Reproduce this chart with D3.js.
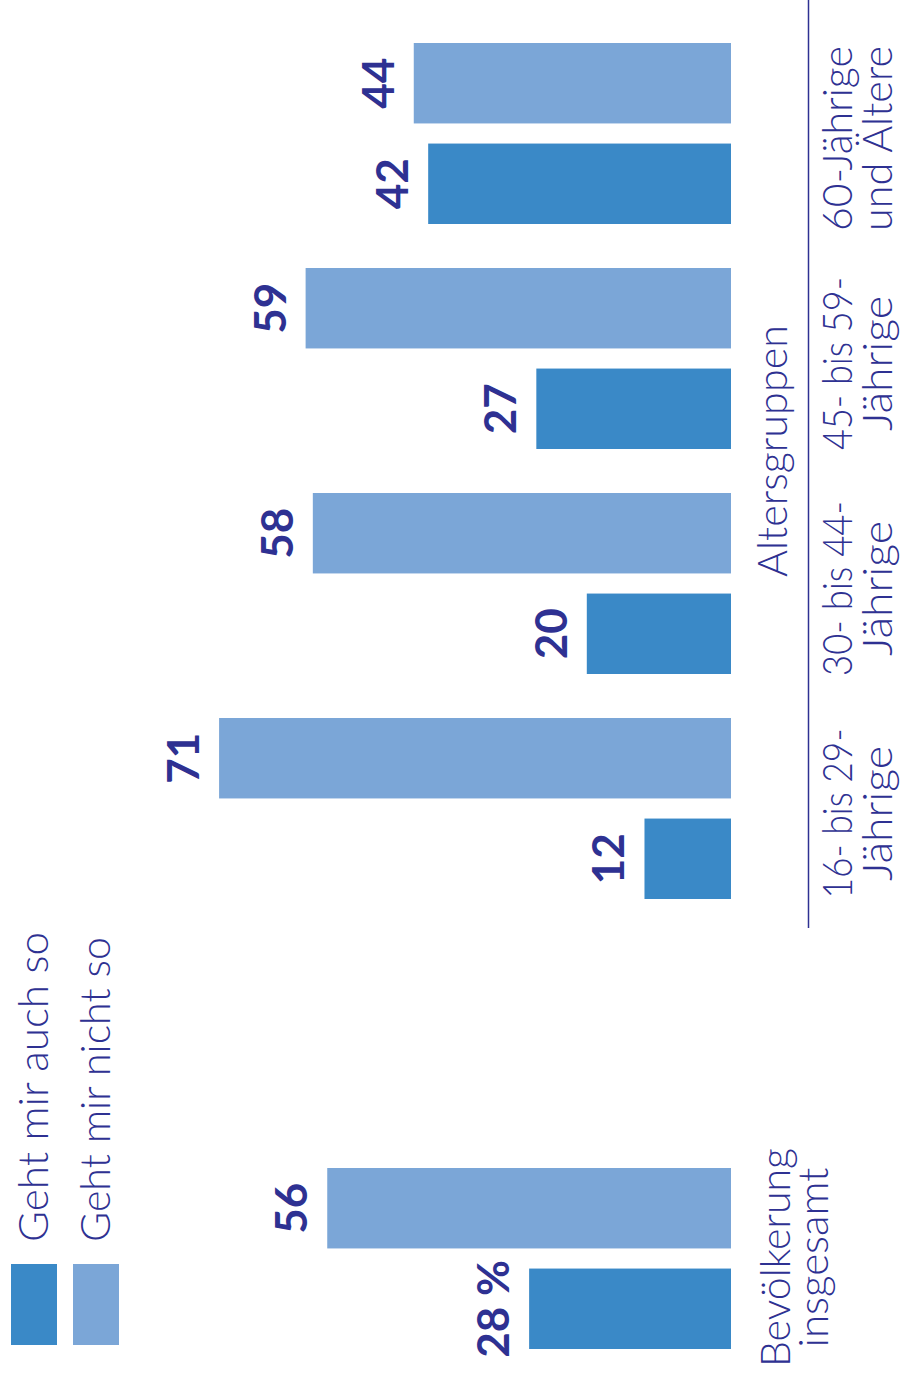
<!DOCTYPE html>
<html lang="de">
<head>
<meta charset="utf-8">
<script src="https://cdn.jsdelivr.net/npm/d3@7"></script>
<style>
  html, body { margin: 0; padding: 0; background: #ffffff; }
  svg { display: block; }
  text { font-family: Lato, "Open Sans", sans-serif; fill: #2e3192; }
  .cat { font-weight: 300; font-size: 41px; }
  .val { font-weight: 700; font-size: 44px; }
  .leg { font-weight: 300; font-size: 41px; }
</style>
</head>
<body>
<script>
// Umfrage: "Geht mir auch so" / "Geht mir nicht so" nach Altersgruppen (in %)
const groups = ["60+", "45-59", "30-44", "16-29", "gap", "total"];
const groupLabels = {
  "total": ["Bevölkerung", "insgesamt"],
  "16-29": ["16- bis 29-", "Jährige"],
  "30-44": ["30- bis 44-", "Jährige"],
  "45-59": ["45- bis 59-", "Jährige"],
  "60+":   ["60-Jährige", "und Ältere"]
};
const seriesNames = ["Geht mir auch so", "Geht mir nicht so"];
const seriesKeys = ["auch", "nicht"];
const auchValues  = { "total": 28, "16-29": 12, "30-44": 20, "45-59": 27, "60+": 42 };
const nichtValues = { "total": 56, "16-29": 71, "30-44": 58, "45-59": 59, "60+": 44 };
const axisTitle = "Altersgruppen";

const W = 903, H = 1377;
const colors = { auch: "#3a89c7", nicht: "#7ba6d7" };
const ink = "#2e3192";

// Laufweiten der Beschriftungen (px), damit die schmale Grotesk-Anmutung erhalten bleibt
const lineWidths = {
  "Bevölkerung": 219, "insgesamt": 180,
  "16- bis 29-": 170, "30- bis 44-": 175, "45- bis 59-": 173, "Jährige": 135,
  "60-Jährige": 185, "und Ältere": 185,
  "Altersgruppen": 252,
  "Geht mir auch so": 310, "Geht mir nicht so": 305
};

const svg = d3.select("body").append("svg")
  .attr("width", W).attr("height", H);

// Gruppenpositionen (vertikal), Reihen innerhalb der Gruppe
const yGroup = d3.scalePoint().domain(groups).range([133.5, 1258.5]);
const ySeries = d3.scaleBand().domain(["nicht", "auch"]).range([-90.5, 90.5]).paddingInner(0.2);
// Werte wachsen von der Basislinie nach links
const x = d3.scaleLinear().domain([0, 100]).range([731, 10]);

const rows = [];
groups.filter(g => g !== "gap").forEach(g => {
  rows.push({ group: g, key: "nicht", value: nichtValues[g] });
  rows.push({ group: g, key: "auch", value: auchValues[g] });
});

svg.append("g").selectAll("rect").data(rows).join("rect")
  .attr("x", d => x(d.value))
  .attr("width", d => x(0) - x(d.value))
  .attr("y", d => yGroup(d.group) + ySeries(d.key))
  .attr("height", ySeries.bandwidth())
  .attr("fill", d => colors[d.key]);

// Wertebeschriftungen
svg.append("g").selectAll("text").data(rows).join("text")
  .attr("class", "val")
  .attr("text-anchor", "middle")
  .attr("transform", d => `translate(${x(d.value) - 20},${yGroup(d.group) + ySeries(d.key) + ySeries.bandwidth() / 2}) rotate(-90)`)
  .text(d => d.group === "total" && d.key === "auch" ? `${d.value} %` : d.value);

// Trennlinie der Altersgruppen
svg.append("line")
  .attr("x1", 808.5).attr("x2", 808.5)
  .attr("y1", 0).attr("y2", yGroup("16-29") + 119.5)
  .attr("stroke", ink).attr("stroke-width", 1.5);

function fitLine(sel, str) {
  sel.text(str);
  if (lineWidths[str]) sel.attr("textLength", lineWidths[str]).attr("lengthAdjust", "spacingAndGlyphs");
  return sel;
}

// Kategorienbeschriftungen
const catG = svg.append("g");
groups.filter(g => g !== "gap").forEach(g => {
  const bx = g === "total" ? 790 : 852;
  const lh = g === "total" ? 38 : 40;
  const dy = g === "total" ? -1 : 5;
  const t = catG.append("text")
    .attr("class", "cat")
    .attr("text-anchor", "middle")
    .attr("transform", `translate(${bx},${yGroup(g) + dy}) rotate(-90)`);
  groupLabels[g].forEach((line, i) => {
    fitLine(t.append("tspan").attr("x", 0).attr("y", i * lh), line);
  });
});

fitLine(svg.append("text")
  .attr("class", "cat")
  .attr("text-anchor", "middle")
  .attr("transform", `translate(787,${(yGroup("30-44") + yGroup("45-59")) / 2 - 20}) rotate(-90)`), axisTitle);

// Legende
const leg = svg.append("g");
seriesKeys.forEach((k, i) => {
  const lx = 11 + i * 62;
  leg.append("rect")
    .attr("x", lx).attr("y", 1264)
    .attr("width", 46).attr("height", 81)
    .attr("fill", colors[k]);
  fitLine(leg.append("text")
    .attr("class", "leg")
    .attr("transform", `translate(${lx + 37},1242) rotate(-90)`), seriesNames[i]);
});
</script>
</body>
</html>
